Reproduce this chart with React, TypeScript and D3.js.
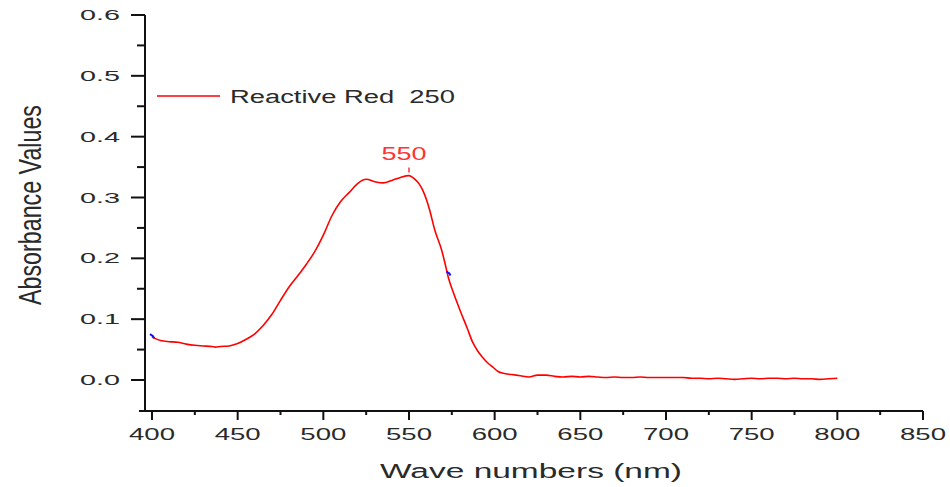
import React from "react";
import * as d3 from "d3";

const wavelengths = [400,402,405,410,415,420,425,430,435,437,440,445,450,455,460,465,470,475,480,485,490,495,500,505,510,515,520,525,530,535,540,545,550,553,556,558,562,565,569,571,573,576,580,584,587,590,593,596,599,602,605,610,615,620,625,630,635,640,645,650,655,660,665,670,675,680,685,690,700,710,715,720,725,730,735,740,745,750,755,760,765,770,775,780,785,790,795,800];
const absorbance = [0.071,0.068,0.065,0.063,0.062,0.059,0.057,0.056,0.055,0.054,0.055,0.056,0.060,0.067,0.076,0.090,0.108,0.131,0.153,0.171,0.190,0.211,0.238,0.270,0.293,0.308,0.323,0.330,0.326,0.324,0.328,0.333,0.336,0.331,0.322,0.312,0.280,0.247,0.214,0.192,0.168,0.143,0.113,0.085,0.063,0.048,0.037,0.028,0.021,0.014,0.011,0.009,0.007,0.005,0.008,0.008,0.006,0.005,0.006,0.005,0.006,0.005,0.004,0.005,0.004,0.004,0.005,0.004,0.004,0.004,0.003,0.003,0.002,0.003,0.002,0.001,0.002,0.003,0.002,0.003,0.003,0.002,0.003,0.002,0.002,0.001,0.002,0.003];
const xTicks = [400,450,500,550,600,650,700,750,800,850];
const xMinor = [425,475,525,575,625,675,725,775,825];
const yTicks = [0,0.1,0.2,0.3,0.4,0.5,0.6];
const yMinor = [0.05,0.15,0.25,0.35,0.45,0.55];
const markerPoints = [[400,0.072],[573,0.175]];
const seriesName = "Reactive Red  250";
const peakLabel = "550";
const peakX = 550;
const peakY = 0.336;

export default function App() {
  const x = d3.scaleLinear().domain([400, 850]).range([152, 923]);
  const y = d3.scaleLinear().domain([0, 0.6]).range([380, 15]);
  const axisX = 145;
  const axisY = 411;
  const line = d3.line<number>().x((_, i) => x(wavelengths[i])).y((d) => y(d)).curve(d3.curveMonotoneX);
  const fmt = d3.format(".1f");
  return (
    <svg width={950} height={487} style={{ position: "absolute", left: 0, top: 0, background: "#fff" }}>
      {/* axes */}
      <line x1={axisX} y1={y(0.6)} x2={axisX} y2={axisY} stroke="#111" strokeWidth={2} />
      <line x1={139} y1={axisY} x2={x(850)} y2={axisY} stroke="#111" strokeWidth={2} />
      {yTicks.map((t) => (
        <g key={"y" + t}>
          <line x1={axisX - 14} x2={axisX} y1={y(t)} y2={y(t)} stroke="#111" strokeWidth={2} />
          <text x={120} y={y(t) + 5} textAnchor="end" fontFamily="Liberation Sans, Arial, sans-serif" fontSize={14} fill="#2a2a2a" textLength={40} lengthAdjust="spacingAndGlyphs">{fmt(t)}</text>
        </g>
      ))}
      {yMinor.map((t) => (
        <line key={"ym" + t} x1={axisX - 8} x2={axisX} y1={y(t)} y2={y(t)} stroke="#111" strokeWidth={2} />
      ))}
      {xTicks.map((t) => (
        <g key={"x" + t}>
          <line x1={x(t)} x2={x(t)} y1={axisY} y2={axisY + 9} stroke="#111" strokeWidth={2} />
          <text x={x(t)} y={440} textAnchor="middle" fontFamily="Liberation Sans, Arial, sans-serif" fontSize={17} fill="#2a2a2a" textLength={46} lengthAdjust="spacingAndGlyphs">{String(t)}</text>
        </g>
      ))}
      {xMinor.map((t) => (
        <line key={"xm" + t} x1={x(t)} x2={x(t)} y1={axisY} y2={axisY + 4} stroke="#111" strokeWidth={2} />
      ))}
      {/* axis titles */}
      <text x={531} y={478} textAnchor="middle" fontFamily="Liberation Sans, Arial, sans-serif" fontSize={20} fill="#2a2a2a" textLength={302} lengthAdjust="spacingAndGlyphs">Wave numbers (nm)</text>
      <text transform="translate(41,205) rotate(-90)" textAnchor="middle" fontFamily="Liberation Sans, Arial, sans-serif" fontSize={31} fill="#2a2a2a" textLength={200} lengthAdjust="spacingAndGlyphs">Absorbance Values</text>
      {/* legend */}
      <line x1={157} x2={220} y1={96} y2={96} stroke="#ff0000" strokeWidth={1.5} />
      <text x={230} y={103} fontFamily="Liberation Sans, Arial, sans-serif" fontSize={18} fill="#2a2a2a" textLength={225} lengthAdjust="spacingAndGlyphs" style={{ whiteSpace: "pre" }}>{seriesName}</text>
      {/* curve */}
      <path d={line(absorbance) || ""} fill="none" stroke="#ff0000" strokeWidth={1.6} strokeLinejoin="round" />
      {markerPoints.map(([a, b], i) => (
        <path key={"m" + i} d={`M${x(a) - 2},${y(b) - 2} l3,2 l1,2`} stroke="#1010ff" strokeWidth={2} fill="none" />
      ))}
      {/* peak annotation */}
      <line x1={x(peakX)} x2={x(peakX)} y1={y(peakY) - 8} y2={y(peakY) - 3} stroke="#ff3333" strokeWidth={1.5} />
      <text x={404} y={160} textAnchor="middle" fontFamily="Liberation Sans, Arial, sans-serif" fontSize={18} fill="#ff3333" textLength={45} lengthAdjust="spacingAndGlyphs">{peakLabel}</text>
    </svg>
  );
}
